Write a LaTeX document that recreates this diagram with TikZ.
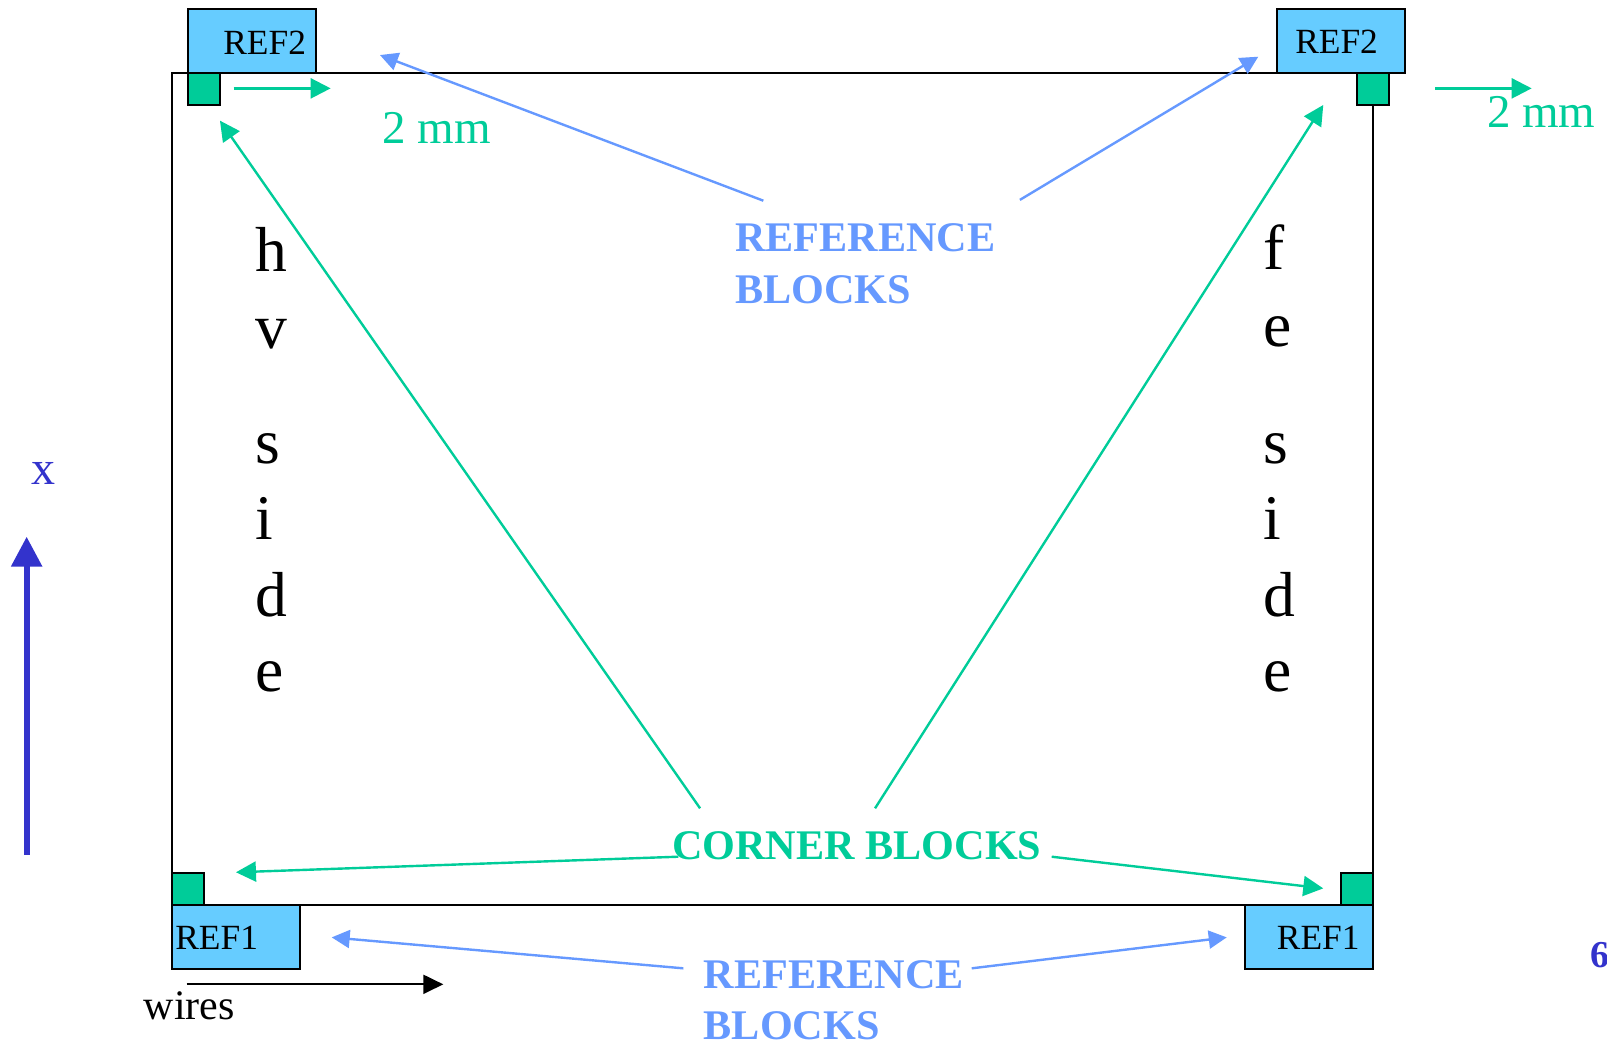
\documentclass[tikz,border=0pt]{standalone}
\usepackage{fontspec}
\setmainfont{Liberation Serif}
\usetikzlibrary{arrows.meta}
\definecolor{cgreen}{HTML}{00CC99}
\definecolor{cfill}{HTML}{66CCFF}
\definecolor{cblue}{HTML}{6699FF}
\definecolor{cdark}{HTML}{3333CC}
\tikzset{
  refbox/.style={draw=black, line width=1pt, fill=cfill, minimum width=64.1pt, minimum height=31.9pt, inner sep=0pt, anchor=north west},
  cornbox/.style={draw=black, line width=1pt, fill=cgreen, minimum width=16pt, minimum height=16pt, inner sep=0pt, anchor=north west},
  txt/.style={inner sep=0pt, anchor=base west},
  reftext/.style={txt, font=\fontsize{17.7}{20}\selectfont},
  mmtext/.style={txt, text=cgreen, font=\fontsize{23.5}{26}\selectfont},
  sidetext/.style={txt, font=\fontsize{31.8}{36}\selectfont},
  bluelabel/.style={txt, text=cblue, font=\bfseries\fontsize{21.1}{24}\selectfont},
  greenlabel/.style={txt, text=cgreen, font=\bfseries\fontsize{21.1}{24}\selectfont},
  garrow/.style={draw=cgreen, line width=1.2pt, -{Triangle[length=10pt,width=10pt]}},
  barrow/.style={draw=cblue, line width=1.2pt, -{Triangle[length=9pt,width=9pt]}},
}
\begin{document}
\begin{tikzpicture}[x=0.5125pt,y=-0.5125pt]
\useasboundingbox (0,0) rectangle (1567.8,1016.6);
% main frame
\node[draw=black, line width=1pt, minimum width=600.2pt, minimum height=416.2pt, inner sep=0pt, anchor=north west] (frame) at (167,70) {};
% reference boxes
\node[refbox] (ref2l) at (182.7,8.1) {};
\node[refbox] (ref2r) at (1244.6,8.1) {};
\node[refbox] (ref1l) at (166.8,882.3) {};
\node[refbox] (ref1r) at (1213.2,882.3) {};
\node[reftext, anchor=base] (t2l) at (258.2,52.7) {REF2};
\node[reftext, anchor=base] (t2r) at (1304,52.5) {REF2};
\node[reftext, anchor=base west] (t1l) at (170.7,926.2) {REF1};
\node[reftext, anchor=base east] (t1r) at (1326.8,926.2) {REF1};
% corner blocks
\node[cornbox] (cbtl) at (182.7,70) {};
\node[cornbox] (cbtr) at (1322.6,70) {};
\node[cornbox] (cbbl) at (166.8,851) {};
\node[cornbox] (cbbr) at (1306.9,851) {};
% 2 mm
\coordinate (mmlA) at (228,86.2);
\coordinate (mmlB) at (322.6,86.2);
\coordinate (mmrA) at (1400,86.2);
\coordinate (mmrB) at (1494.3,86.2);
\draw[garrow] (mmlA) -- (mmlB);
\draw[garrow] (mmrA) -- (mmrB);
\node[mmtext] (mml) at (373,139.8) {2 mm};
\node[mmtext] (mmr) at (1450.4,124.6) {2 mm};
% side letters
\node[sidetext] (h1) at (249,265) {h};
\node[sidetext] (h2) at (249,339.8) {v};
\node[sidetext] (h3) at (249,452) {s};
\node[sidetext] (h4) at (249,526.8) {i};
\node[sidetext] (h5) at (249,601.6) {d};
\node[sidetext] (h6) at (249,674.8) {e};
\node[sidetext] (f1) at (1232,263.4) {f};
\node[sidetext] (f2) at (1232,338.2) {e};
\node[sidetext] (f3) at (1232,452) {s};
\node[sidetext] (f4) at (1232,526.8) {i};
\node[sidetext] (f5) at (1232,601.6) {d};
\node[sidetext] (f6) at (1232,674.8) {e};
% labels
\node[bluelabel] (rbta) at (717,245.5) {REFERENCE};
\node[bluelabel] (rbtb) at (717,296) {BLOCKS};
\node[greenlabel] (cb) at (655.3,839) {CORNER BLOCKS};
\node[bluelabel] (rbba) at (686.2,964.2) {REFERENCE};
\node[bluelabel] (rbbb) at (686.2,1014.6) {BLOCKS};
% top blue arrows
\coordinate (btl0) at (744.7,195.8);
\coordinate (btl1) at (370.7,53.7);
\coordinate (btr0) at (995,195);
\coordinate (btr1) at (1227.6,55.3);
\draw[barrow] (btl0) -- (btl1);
\draw[barrow] (btr0) -- (btr1);
% green arrows
\coordinate (g1a) at (683,788.6);
\coordinate (g1b) at (214.6,117.7);
\coordinate (g2a) at (853.7,788.6);
\coordinate (g2b) at (1291,102.4);
\coordinate (g3a) at (661.8,835.8);
\coordinate (g3b) at (230.2,851);
\coordinate (g4a) at (1026,835.8);
\coordinate (g4b) at (1291,866.7);
\draw[garrow] (g1a) -- (g1b);
\draw[garrow] (g2a) -- (g2b);
\draw[garrow] (g3a) -- (g3b);
\draw[garrow] (g4a) -- (g4b);
% bottom blue arrows
\coordinate (bbl0) at (666.7,944.7);
\coordinate (bbl1) at (323.6,914.5);
\coordinate (bbr0) at (948,944.7);
\coordinate (bbr1) at (1196.8,914.5);
\draw[barrow] (bbl0) -- (bbl1);
\draw[barrow] (bbr0) -- (bbr1);
% wires
\coordinate (w0) at (182,960.3);
\coordinate (w1) at (432.5,960.3);
\draw[line width=1pt, -{Triangle[length=10pt,width=9.5pt]}] (w0) -- (w1);
\node[txt, font=\fontsize{21}{24}\selectfont] (wires) at (139.8,995) {wires};
% x axis
\coordinate (x0) at (26,834);
\coordinate (x1) at (26,523.6);
\draw[draw=cdark, line width=3pt, -{Triangle[length=15pt,width=15pt]}] (x0) -- (x1);
\node[inner sep=0pt, anchor=base, text=cdark, font=\fontsize{24}{26}\selectfont] (xl) at (42.3,473) {x};
% page number
\node[txt, text=cdark, font=\bfseries\fontsize{19}{22}\selectfont] (pg) at (1551,943.6) {6};
\end{tikzpicture}
\end{document}
